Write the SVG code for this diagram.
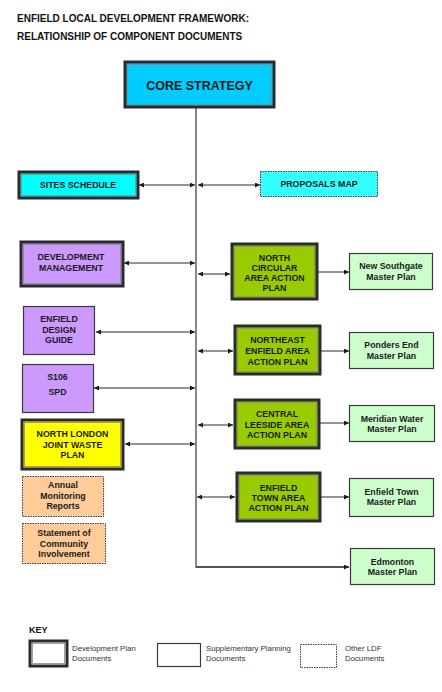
<svg xmlns="http://www.w3.org/2000/svg" width="442" height="692" viewBox="0 0 442 692">
<defs>
<style>
.t{font-family:"Liberation Sans",Arial,sans-serif;font-weight:bold;font-size:8.8px;fill:#1a1a1a;text-anchor:middle}
.title{font-family:"Liberation Sans",Arial,sans-serif;font-weight:bold;font-size:10px;fill:#111}
.k{font-family:"Liberation Sans",Arial,sans-serif;font-size:7.8px;fill:#333}
.dbl{stroke:#2b2b2b;stroke-width:3}
.inr{fill:none;stroke:#8a8a8a;stroke-width:0.8}
.sgl{stroke:#3a3a3a;stroke-width:1.2}
.dot{stroke:#3a3a3a;stroke-width:1;stroke-dasharray:1.5 1}
.c{fill:none;stroke:#2a2a2a;stroke-width:1}
.v{fill:none;stroke:#555;stroke-width:1.4}
</style>
<marker id="ah" viewBox="0 0 6 6" refX="6" refY="3" markerWidth="6" markerHeight="5" markerUnits="userSpaceOnUse" orient="auto-start-reverse">
<path d="M0,0 L6,3 L0,6 z" fill="#1a1a1a"/>
</marker>
</defs>
<rect width="442" height="692" fill="#fff"/>
<text class="title" x="17" y="22">ENFIELD LOCAL DEVELOPMENT FRAMEWORK:</text>
<text class="title" x="17" y="40">RELATIONSHIP OF COMPONENT DOCUMENTS</text>

<g id="connectors">
<path class="v" d="M196,108 V567 H349"/>
<path class="c" d="M196,567 H349" marker-end="url(#ah)"/>
<line class="c" x1="139" y1="185" x2="195" y2="185" marker-start="url(#ah)" marker-end="url(#ah)"/>
<line class="c" x1="198" y1="185" x2="260" y2="185" marker-start="url(#ah)" marker-end="url(#ah)"/>
<line class="c" x1="124" y1="263" x2="195" y2="263" marker-start="url(#ah)" marker-end="url(#ah)"/>
<line class="c" x1="198" y1="274" x2="230" y2="274" marker-start="url(#ah)" marker-end="url(#ah)"/>
<line class="c" x1="318" y1="272" x2="349" y2="272" marker-end="url(#ah)"/>
<line class="c" x1="96" y1="332" x2="195" y2="332" marker-start="url(#ah)" marker-end="url(#ah)"/>
<line class="c" x1="198" y1="351" x2="233" y2="351" marker-start="url(#ah)" marker-end="url(#ah)"/>
<line class="c" x1="321" y1="351" x2="349" y2="351" marker-end="url(#ah)"/>
<line class="c" x1="94" y1="388" x2="195" y2="388" marker-start="url(#ah)" marker-end="url(#ah)"/>
<line class="c" x1="198" y1="425" x2="233" y2="425" marker-start="url(#ah)" marker-end="url(#ah)"/>
<line class="c" x1="320" y1="423" x2="349" y2="423" marker-end="url(#ah)"/>
<line class="c" x1="125" y1="444" x2="195" y2="444" marker-start="url(#ah)" marker-end="url(#ah)"/>
<line class="c" x1="197" y1="497" x2="235" y2="497" marker-start="url(#ah)" marker-end="url(#ah)"/>
<line class="c" x1="321" y1="497" x2="349" y2="497" marker-end="url(#ah)"/>
</g>

<g id="core-strategy">
<rect class="dbl" x="125" y="62" width="149" height="45" fill="#00CCFF"/>
<rect class="inr" x="127.5" y="64.5" width="144" height="40"/>
<text class="t" x="199.5" y="89.5" style="font-size:12.5px">CORE STRATEGY</text>
</g>

<g id="sites-schedule">
<rect class="dbl" x="19" y="172" width="119" height="26" fill="#00FFFF"/>
<rect class="inr" x="21.5" y="174.5" width="114" height="21"/>
<text class="t" x="78" y="188">SITES SCHEDULE</text>
</g>

<g id="proposals-map">
<rect class="dot" x="260.5" y="171.5" width="117" height="25" fill="#33FFFF"/>
<text class="t" x="319" y="187">PROPOSALS MAP</text>
</g>

<g id="development-management">
<rect class="dbl" x="21" y="242" width="102" height="44" fill="#CC99FF"/>
<rect class="inr" x="23.5" y="244.5" width="97" height="39"/>
<text class="t" x="71" y="260">DEVELOPMENT</text>
<text class="t" x="71" y="270.5">MANAGEMENT</text>
</g>

<g id="north-circular-aap">
<rect class="dbl" x="232" y="244" width="85" height="55" fill="#99CC00"/>
<rect class="inr" x="234.5" y="246.5" width="80" height="50"/>
<text class="t" x="274.5" y="261">NORTH</text>
<text class="t" x="274.5" y="271">CIRCULAR</text>
<text class="t" x="274.5" y="281">AREA ACTION</text>
<text class="t" x="274.5" y="291">PLAN</text>
</g>

<g id="new-southgate">
<rect class="sgl" x="349.5" y="253.5" width="83" height="36" fill="#CCFFCC"/>
<text class="t" x="391" y="269">New Southgate</text>
<text class="t" x="391" y="279.5">Master Plan</text>
</g>

<g id="enfield-design-guide">
<rect class="sgl" x="23.5" y="306.5" width="71" height="48" fill="#CC99FF"/>
<text class="t" x="59" y="322">ENFIELD</text>
<text class="t" x="59" y="332.5">DESIGN</text>
<text class="t" x="59" y="343">GUIDE</text>
</g>

<g id="northeast-enfield-aap">
<rect class="dbl" x="235" y="326" width="85" height="48" fill="#99CC00"/>
<rect class="inr" x="237.5" y="328.5" width="80" height="43"/>
<text class="t" x="277.5" y="343">NORTHEAST</text>
<text class="t" x="277.5" y="354">ENFIELD AREA</text>
<text class="t" x="277.5" y="364.5">ACTION PLAN</text>
</g>

<g id="ponders-end">
<rect class="sgl" x="349.5" y="332.5" width="84" height="36" fill="#CCFFCC"/>
<text class="t" x="391.5" y="348">Ponders End</text>
<text class="t" x="391.5" y="359">Master Plan</text>
</g>

<g id="s106-spd">
<rect class="sgl" x="22.5" y="364.5" width="71" height="48" fill="#CC99FF"/>
<text class="t" x="57.5" y="380">S106</text>
<text class="t" x="57.5" y="395">SPD</text>
</g>

<g id="central-leeside-aap">
<rect class="dbl" x="235" y="400" width="84" height="48" fill="#99CC00"/>
<rect class="inr" x="237.5" y="402.5" width="79" height="43"/>
<text class="t" x="277" y="417">CENTRAL</text>
<text class="t" x="277" y="427.5">LEESIDE AREA</text>
<text class="t" x="277" y="437.5">ACTION PLAN</text>
</g>

<g id="meridian-water">
<rect class="sgl" x="349.5" y="405.5" width="85" height="36" fill="#CCFFCC"/>
<text class="t" x="392" y="422">Meridian Water</text>
<text class="t" x="392" y="432">Master Plan</text>
</g>

<g id="north-london-joint-waste-plan">
<rect class="dbl" x="22" y="420" width="101" height="49" fill="#FFFF00"/>
<rect class="inr" x="24.5" y="422.5" width="96" height="44"/>
<text class="t" x="72.5" y="437">NORTH LONDON</text>
<text class="t" x="72.5" y="447.5">JOINT WASTE</text>
<text class="t" x="72.5" y="457.5">PLAN</text>
</g>

<g id="annual-monitoring-reports">
<rect class="dot" x="22.5" y="476.5" width="81" height="40" fill="#FFCC99"/>
<text class="t" x="63" y="488">Annual</text>
<text class="t" x="63" y="498.5">Monitoring</text>
<text class="t" x="63" y="508.5">Reports</text>
</g>

<g id="enfield-town-aap">
<rect class="dbl" x="237" y="473" width="83" height="48" fill="#99CC00"/>
<rect class="inr" x="239.5" y="475.5" width="78" height="43"/>
<text class="t" x="278.5" y="490.5">ENFIELD</text>
<text class="t" x="278.5" y="500.5">TOWN AREA</text>
<text class="t" x="278.5" y="510.5">ACTION PLAN</text>
</g>

<g id="enfield-town-mp">
<rect class="sgl" x="349.5" y="478.5" width="84" height="38" fill="#CCFFCC"/>
<text class="t" x="391.5" y="494.5">Enfield Town</text>
<text class="t" x="391.5" y="504.5">Master Plan</text>
</g>

<g id="statement-of-community-involvement">
<rect class="dot" x="22.5" y="523.5" width="83" height="40" fill="#FFCC99"/>
<text class="t" x="64" y="536">Statement of</text>
<text class="t" x="64" y="546.5">Community</text>
<text class="t" x="64" y="556.5">Involvement</text>
</g>

<g id="edmonton">
<rect class="sgl" x="350.5" y="548.5" width="84" height="36" fill="#CCFFCC"/>
<text class="t" x="392.5" y="564.5">Edmonton</text>
<text class="t" x="392.5" y="574.5">Master Plan</text>
</g>

<g id="key">
<text class="title" x="29" y="633" style="font-size:9px">KEY</text>
<rect class="dbl" x="30" y="641" width="37" height="25" fill="#fff"/>
<rect class="inr" x="32.5" y="643.5" width="32" height="20"/>
<text class="k" x="72" y="651">Development Plan</text>
<text class="k" x="72" y="660.5">Documents</text>
<rect class="sgl" x="157.5" y="643.5" width="43" height="23" fill="#fff"/>
<text class="k" x="206" y="651">Supplementary Planning</text>
<text class="k" x="206" y="660.5">Documents</text>
<rect class="dot" x="300.5" y="644.5" width="36" height="23" fill="#fff"/>
<text class="k" x="345" y="651">Other LDF</text>
<text class="k" x="345" y="660.5">Documents</text>
</g>
</svg>
